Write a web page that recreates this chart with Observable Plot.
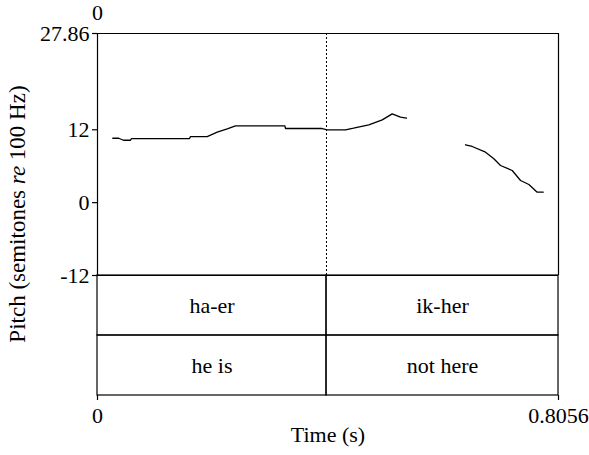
<!DOCTYPE html>
<html>
<head>
<meta charset="utf-8">
<script src="https://cdn.jsdelivr.net/npm/d3@7"></script>
<script src="https://cdn.jsdelivr.net/npm/@observablehq/plot@0.6"></script>
<style>
  body { margin: 0; background: #fff; }
  #chart { position: relative; width: 589px; height: 455px; font-family: "Liberation Serif", serif; color: #000; }
  #chart svg { position: absolute; left: 0; overflow: visible; }
  #chart svg text { font-family: "Liberation Serif", serif !important; }
  #ylab { position: absolute; width: 400px; left: -182px; top: 203px; height: 22px; line-height: 22px;
          font-family: "Liberation Serif", serif; font-size: 23px; text-align: center; transform: rotate(-90deg); transform-origin: 50% 50%; white-space: nowrap; }
</style>
</head>
<body>
<div id="chart">
  <div id="ylab">Pitch (semitones <i>re</i> 100 Hz)</div>
</div>
<script>
// ---- data ----
const timeDomain = [0, 0.8056];
const timeTicks = [0, 0.8056];
const pitchDomain = [-12, 27.86];
const pitchTicks = [-12, 0, 12, 27.86];
const topLabel = "0";

const pitchSegment = [1,1,1,1,1,1,1,1,1,1,1,1,1,1,1,1,1,1,1,1,1,1, 2,2,2,2,2,2,2,2,2,2];
const pitchTime = [0.0267,0.037,0.0454,0.0577,0.0594,0.1608,0.1625,0.1917,0.2092,0.2267,0.2412,0.3273,0.3286,0.3927,0.4014,0.4334,0.4474,0.4741,0.4976,0.5150,0.5295,0.5400,
                   0.6431,0.6548,0.6781,0.6926,0.7043,0.7247,0.7393,0.7538,0.7684,0.7789];
const pitchSemitones = [10.61,10.61,10.28,10.28,10.56,10.56,10.89,10.89,11.60,12.16,12.66,12.66,12.21,12.21,12.00,12.00,12.26,12.82,13.64,14.63,14.07,13.91,
                        9.53,9.25,8.31,7.22,6.12,5.29,3.65,2.99,1.72,1.72];

const tierNames = ["syllables", "gloss"];
const intervalStart = [0, 0.4002];
const intervalEnd = [0.4002, 0.8056];
const syllableLabels = ["ha-er", "ik-her"];
const glossLabels = ["he is", "not here"];
const boundaryTimes = [0.4002];
const xTitle = "Time (s)";

// ---- build tables ----
const pitchData = pitchTime.map((t, i) => ({t, st: pitchSemitones[i], seg: pitchSegment[i]}));
const intervals = [];
[syllableLabels, glossLabels].forEach((labels, k) => {
  labels.forEach((lab, i) => intervals.push({tier: tierNames[k], start: intervalStart[i], end: intervalEnd[i], label: lab}));
});

const serif = "Liberation Serif";
const fontStyle = {fontFamily: serif, fontSize: "22px", background: "transparent", color: "#000"};
const lw = 1.2;

const pitchPlot = Plot.plot({
  width: 589, height: 276,
  marginTop: 33, marginBottom: 1, marginLeft: 97, marginRight: 31,
  x: {domain: timeDomain, axis: null},
  y: {domain: pitchDomain, axis: null},
  style: fontStyle,
  marks: [
    Plot.ruleY([pitchDomain[1], pitchDomain[0]], {stroke: "#000", strokeWidth: lw}),
    Plot.ruleX(timeDomain, {stroke: "#000", strokeWidth: lw}),
    Plot.ruleX(boundaryTimes, {stroke: "#000", strokeWidth: 1, strokeDasharray: "2,2"}),
    Plot.axisY({ticks: pitchTicks, tickSize: 5, tickPadding: 3, tickFormat: d => String(d), label: null, fontSize: 22, fontFamily: serif, stroke: "#000", strokeWidth: lw}),
    Plot.line(pitchData, {x: "t", y: "st", z: "seg", stroke: "#000", strokeWidth: 1.3}),
    Plot.text([topLabel], {x: timeDomain[0], y: pitchDomain[1], text: d => d, dy: -21, fontSize: 22, fontFamily: serif, fill: "#000"})
  ]
});
pitchPlot.style.top = "0px";

const tierPlot = Plot.plot({
  width: 589, height: 180,
  marginTop: 0, marginBottom: 60, marginLeft: 97, marginRight: 31,
  x: {domain: timeDomain, axis: null},
  y: {domain: tierNames, padding: 0, axis: null},
  style: fontStyle,
  marks: [
    Plot.barX(intervals, {x1: "start", x2: "end", y: "tier", fill: "none", stroke: "#000", strokeWidth: lw, inset: 0}),
    Plot.text(intervals, {x: d => (d.start + d.end) / 2, y: "tier", text: "label", fontSize: 22, fontFamily: serif, fill: "#000"}),
    Plot.axisX({ticks: timeTicks, tickSize: 5, tickPadding: 7, tickFormat: d => String(d), label: null, fontSize: 22, fontFamily: serif, stroke: "#000", strokeWidth: lw}),
    Plot.text([xTitle], {frameAnchor: "bottom", dy: 46, text: d => d, fontSize: 22, fontFamily: serif, fill: "#000"})
  ]
});
tierPlot.style.top = "275px";

const chartDiv = document.getElementById("chart");
chartDiv.appendChild(pitchPlot);
chartDiv.appendChild(tierPlot);
</script>
</body>
</html>
